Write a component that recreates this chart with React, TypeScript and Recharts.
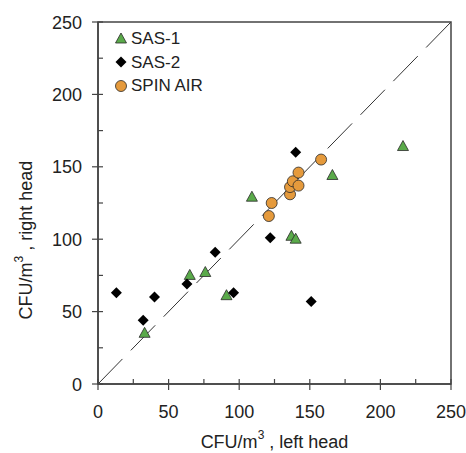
import React from 'react';
import {
  ScatterChart,
  Scatter,
  XAxis,
  YAxis,
  ReferenceLine,
  ReferenceArea,
  Label,
} from 'recharts';

// values (CFU/m3, left head vs right head)
const sas1X = [33, 65, 76, 91, 109, 137, 140, 166, 216];
const sas1Y = [35, 75, 77, 61, 129, 102, 100, 144, 164];

const sas2X = [13, 32, 40, 63, 83, 96, 122, 140, 151];
const sas2Y = [63, 44, 60, 69, 91, 63, 101, 160, 57];

const spinX = [121, 123, 136, 136, 138, 142, 142, 158];
const spinY = [116, 125, 131, 136, 140, 137, 146, 155];

const axisTicks = [0, 25, 50, 75, 100, 125, 150, 175, 200, 225, 250];
const seriesNames = ['SAS-1', 'SAS-2', 'SPIN AIR'];

const toPoints = (xs: number[], ys: number[]) => xs.map((x, i) => ({ x, y: ys[i] }));

const FONT = '"Liberation Sans", Arial, sans-serif';
const AXIS = '#444';
const GREEN = '#5aaa4a';
const ORANGE = '#e59a3c';
const EDGE = '#2a2a2a';

const Triangle = ({ cx, cy }: any) => (
  <polygon
    points={`${cx},${cy - 6} ${cx - 5.5},${cy + 4} ${cx + 5.5},${cy + 4}`}
    fill={GREEN}
    stroke={EDGE}
    strokeWidth={0.8}
  />
);

const Diamond = ({ cx, cy }: any) => (
  <polygon
    points={`${cx},${cy - 5.5} ${cx + 5.5},${cy} ${cx},${cy + 5.5} ${cx - 5.5},${cy}`}
    fill="#000"
  />
);

const Dot = ({ cx, cy }: any) => (
  <circle cx={cx} cy={cy} r={5.5} fill={ORANGE} stroke={EDGE} strokeWidth={0.8} />
);

const XTick = ({ x, y, payload }: any) => {
  const major = payload.value % 50 === 0;
  return (
    <g>
      <line x1={x} x2={x} y1={y - 5} y2={major ? y + 6 : y} stroke={AXIS} strokeWidth={1.2} />
      {major && (
        <text x={x} y={y + 34} textAnchor="middle" fontSize={18} fill="#222" fontFamily={FONT}>
          {payload.value}
        </text>
      )}
    </g>
  );
};

const YTick = ({ x, y, payload }: any) => {
  const major = payload.value % 50 === 0;
  return (
    <g>
      <line x1={major ? x - 6 : x} x2={x + 5} y1={y} y2={y} stroke={AXIS} strokeWidth={1.2} />
      {major && (
        <text x={x - 16} y={y + 6.5} textAnchor="end" fontSize={18} fill="#222" fontFamily={FONT}>
          {payload.value}
        </text>
      )}
    </g>
  );
};

const legendShapes = [Triangle, Diamond, Dot];

const LegendBox = () => (
  <div
    style={{
      position: 'absolute',
      left: 114,
      top: 27,
      fontFamily: FONT,
      fontSize: 17,
      color: '#222',
      lineHeight: 1,
    }}
  >
    {seriesNames.map((name, i) => {
      const Shape = legendShapes[i];
      return (
        <div key={name} style={{ display: 'flex', alignItems: 'center', height: 23.5 }}>
          <svg width={14} height={14} style={{ marginRight: 3 }}>
            <Shape cx={7} cy={7} />
          </svg>
          <span>{name}</span>
        </div>
      );
    })}
  </div>
);

export default function App() {
  return (
    <div style={{ position: 'absolute', left: 0, top: 0, width: 466, height: 453, background: '#fff' }}>
      <ScatterChart width={466} height={453} margin={{ top: 22, right: 15, bottom: 9, left: 0 }}>
        <XAxis
          type="number"
          dataKey="x"
          domain={[0, 250]}
          ticks={axisTicks}
          interval={0}
          tick={XTick}
          tickLine={false}
          tickSize={0}
          tickMargin={0}
          height={60}
          axisLine={{ stroke: AXIS, strokeWidth: 1.5 }}
        >
          <Label
            content={({ viewBox }: any) => (
              <text
                x={viewBox.x + viewBox.width / 2}
                y={448}
                textAnchor="middle"
                fontSize={18}
                fill="#222"
                fontFamily={FONT}
              >
                CFU/m
                <tspan fontSize={12} dy={-9}>3</tspan>
                <tspan dy={9}> , left head</tspan>
              </text>
            )}
          />
        </XAxis>
        <YAxis
          type="number"
          dataKey="y"
          domain={[0, 250]}
          ticks={axisTicks}
          interval={0}
          tick={YTick}
          tickLine={false}
          tickSize={0}
          tickMargin={0}
          width={98}
          axisLine={{ stroke: AXIS, strokeWidth: 1.5 }}
        >
          <Label
            content={() => (
              <text
                x={32}
                y={240}
                transform="rotate(-90 32 240)"
                textAnchor="middle"
                fontSize={18}
                fill="#222"
                fontFamily={FONT}
              >
                CFU/m
                <tspan fontSize={12} dy={-9}>3</tspan>
                <tspan dy={9}> , right head</tspan>
              </text>
            )}
          />
        </YAxis>
        <ReferenceArea x1={0} x2={250} y1={0} y2={250} fill="none" stroke={AXIS} strokeWidth={1.5} />
        <ReferenceLine
          segment={[
            { x: 0, y: 0 },
            { x: 250, y: 250 },
          ]}
          stroke="#333"
          strokeWidth={1}
          strokeDasharray="35 12"
        />
        <Scatter name="SAS-1" data={toPoints(sas1X, sas1Y)} shape={Triangle} isAnimationActive={false} />
        <Scatter name="SAS-2" data={toPoints(sas2X, sas2Y)} shape={Diamond} isAnimationActive={false} />
        <Scatter name="SPIN AIR" data={toPoints(spinX, spinY)} shape={Dot} isAnimationActive={false} />
      </ScatterChart>
      <LegendBox />
    </div>
  );
}
